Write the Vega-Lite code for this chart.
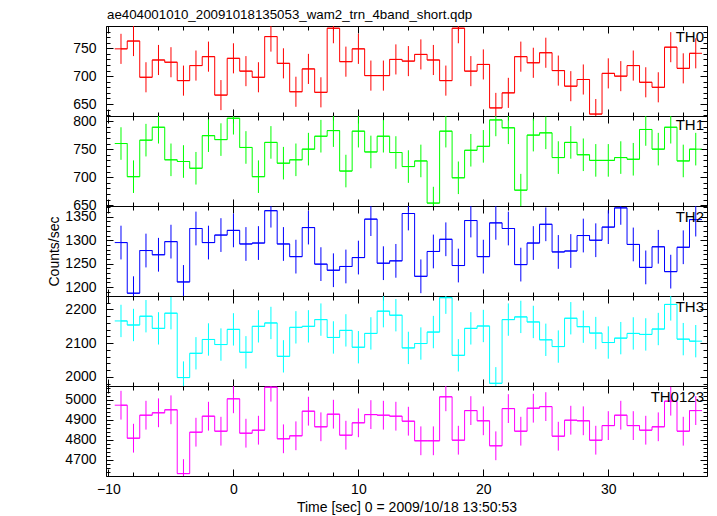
{
  "$schema": "https://vega.github.io/schema/vega-lite/v6.json",
  "background": "white",
  "padding": {"left": 47, "top": 7, "right": 5, "bottom": 5},
  "bounds": "flush",
  "spacing": 0,
  "title": {"text": "ae404001010_20091018135053_wam2_trn_4band_short.qdp", "anchor": "start", "frame": "group", "dx": 1, "fontSize": 13.3, "font": "Liberation Sans", "fontWeight": "normal", "color": "black", "offset": 4},
  "config": {
    "view": {"stroke": "black", "strokeWidth": 1},
    "axis": {"domain": false, "grid": false, "labelFont": "Liberation Sans", "labelFontSize": 14, "labelColor": "black", "titleFont": "Liberation Sans", "titleFontSize": 14, "titleFontWeight": "normal", "titleColor": "black", "tickColor": "black", "tickWidth": 1, "format": "d"},
    "concat": {"spacing": 0}
  },
  "datasets": {
    "d0": [
      {"t":-9,"r":749,"e":27,"w":0.5},{"t":-8,"r":763,"e":27,"w":0.5},{"t":-7,"r":698,"e":27,"w":0.5},{"t":-6,"r":729,"e":27,"w":0.5},{"t":-5,"r":725,"e":27,"w":0.5},{"t":-4,"r":692,"e":27,"w":0.5},{"t":-3,"r":719,"e":27,"w":0.5},{"t":-2,"r":735,"e":27,"w":0.5},{"t":-1,"r":666,"e":27,"w":0.5},{"t":0,"r":732,"e":27,"w":0.5},{"t":1,"r":709,"e":27,"w":0.5},{"t":2,"r":698,"e":27,"w":0.5},{"t":3,"r":771,"e":27,"w":0.5},{"t":4,"r":723,"e":27,"w":0.5},{"t":5,"r":672,"e":27,"w":0.5},{"t":6,"r":713,"e":27,"w":0.5},{"t":7,"r":671,"e":27,"w":0.5},{"t":8,"r":786,"e":27,"w":0.5},{"t":9,"r":726,"e":27,"w":0.5},{"t":10,"r":749,"e":27,"w":0.5},{"t":11,"r":701,"e":27,"w":0.5},{"t":12,"r":701,"e":27,"w":0.5},{"t":13,"r":730,"e":27,"w":0.5},{"t":14,"r":727,"e":27,"w":0.5},{"t":15,"r":739,"e":27,"w":0.5},{"t":16,"r":729,"e":27,"w":0.5},{"t":17,"r":692,"e":27,"w":0.5},{"t":18,"r":786,"e":27,"w":0.5},{"t":19,"r":709,"e":27,"w":0.5},{"t":20,"r":721,"e":27,"w":0.5},{"t":21,"r":643,"e":27,"w":0.5},{"t":22,"r":670,"e":27,"w":0.5},{"t":23,"r":735,"e":27,"w":0.5},{"t":24,"r":724,"e":27,"w":0.5},{"t":25,"r":742,"e":27,"w":0.5},{"t":26,"r":710,"e":27,"w":0.5},{"t":27,"r":682,"e":27,"w":0.5},{"t":28,"r":694,"e":27,"w":0.5},{"t":29,"r":632,"e":27,"w":0.5},{"t":30,"r":705,"e":27,"w":0.5},{"t":31,"r":700,"e":27,"w":0.5},{"t":32,"r":719,"e":27,"w":0.5},{"t":33,"r":689,"e":27,"w":0.5},{"t":34,"r":680,"e":27,"w":0.5},{"t":35,"r":752,"e":27,"w":0.5},{"t":36,"r":714,"e":27,"w":0.5},{"t":37,"r":741,"e":27,"w":0.5}
    ],
    "d1": [
      {"t":-9,"r":760,"e":29,"w":0.5},{"t":-8,"r":701,"e":29,"w":0.5},{"t":-7,"r":766,"e":29,"w":0.5},{"t":-6,"r":789,"e":29,"w":0.5},{"t":-5,"r":731,"e":29,"w":0.5},{"t":-4,"r":728,"e":29,"w":0.5},{"t":-3,"r":716,"e":29,"w":0.5},{"t":-2,"r":774,"e":29,"w":0.5},{"t":-1,"r":767,"e":29,"w":0.5},{"t":0,"r":805,"e":29,"w":0.5},{"t":1,"r":753,"e":29,"w":0.5},{"t":2,"r":701,"e":29,"w":0.5},{"t":3,"r":762,"e":29,"w":0.5},{"t":4,"r":725,"e":29,"w":0.5},{"t":5,"r":731,"e":29,"w":0.5},{"t":6,"r":750,"e":29,"w":0.5},{"t":7,"r":773,"e":29,"w":0.5},{"t":8,"r":783,"e":29,"w":0.5},{"t":9,"r":711,"e":29,"w":0.5},{"t":10,"r":782,"e":29,"w":0.5},{"t":11,"r":745,"e":29,"w":0.5},{"t":12,"r":773,"e":29,"w":0.5},{"t":13,"r":744,"e":29,"w":0.5},{"t":14,"r":719,"e":29,"w":0.5},{"t":15,"r":729,"e":29,"w":0.5},{"t":16,"r":654,"e":29,"w":0.5},{"t":17,"r":782,"e":29,"w":0.5},{"t":18,"r":699,"e":29,"w":0.5},{"t":19,"r":748,"e":29,"w":0.5},{"t":20,"r":755,"e":29,"w":0.5},{"t":21,"r":802,"e":29,"w":0.5},{"t":22,"r":788,"e":29,"w":0.5},{"t":23,"r":677,"e":29,"w":0.5},{"t":24,"r":775,"e":29,"w":0.5},{"t":25,"r":779,"e":29,"w":0.5},{"t":26,"r":735,"e":29,"w":0.5},{"t":27,"r":762,"e":29,"w":0.5},{"t":28,"r":740,"e":29,"w":0.5},{"t":29,"r":730,"e":29,"w":0.5},{"t":30,"r":730,"e":29,"w":0.5},{"t":31,"r":735,"e":29,"w":0.5},{"t":32,"r":732,"e":29,"w":0.5},{"t":33,"r":785,"e":29,"w":0.5},{"t":34,"r":750,"e":29,"w":0.5},{"t":35,"r":789,"e":29,"w":0.5},{"t":36,"r":729,"e":29,"w":0.5},{"t":37,"r":750,"e":29,"w":0.5}
    ],
    "d2": [
      {"t":-9,"r":1295,"e":36,"w":0.5},{"t":-8,"r":1187,"e":36,"w":0.5},{"t":-7,"r":1278,"e":36,"w":0.5},{"t":-6,"r":1269,"e":36,"w":0.5},{"t":-5,"r":1297,"e":36,"w":0.5},{"t":-4,"r":1211,"e":36,"w":0.5},{"t":-3,"r":1325,"e":36,"w":0.5},{"t":-2,"r":1295,"e":36,"w":0.5},{"t":-1,"r":1311,"e":36,"w":0.5},{"t":0,"r":1321,"e":36,"w":0.5},{"t":1,"r":1292,"e":36,"w":0.5},{"t":2,"r":1294,"e":36,"w":0.5},{"t":3,"r":1363,"e":36,"w":0.5},{"t":4,"r":1292,"e":36,"w":0.5},{"t":5,"r":1265,"e":36,"w":0.5},{"t":6,"r":1327,"e":36,"w":0.5},{"t":7,"r":1249,"e":36,"w":0.5},{"t":8,"r":1236,"e":36,"w":0.5},{"t":9,"r":1244,"e":36,"w":0.5},{"t":10,"r":1263,"e":36,"w":0.5},{"t":11,"r":1345,"e":36,"w":0.5},{"t":12,"r":1251,"e":36,"w":0.5},{"t":13,"r":1256,"e":36,"w":0.5},{"t":14,"r":1357,"e":36,"w":0.5},{"t":15,"r":1223,"e":36,"w":0.5},{"t":16,"r":1276,"e":36,"w":0.5},{"t":17,"r":1302,"e":36,"w":0.5},{"t":18,"r":1246,"e":36,"w":0.5},{"t":19,"r":1342,"e":36,"w":0.5},{"t":20,"r":1265,"e":36,"w":0.5},{"t":21,"r":1337,"e":36,"w":0.5},{"t":22,"r":1325,"e":36,"w":0.5},{"t":23,"r":1248,"e":36,"w":0.5},{"t":24,"r":1294,"e":36,"w":0.5},{"t":25,"r":1334,"e":36,"w":0.5},{"t":26,"r":1275,"e":36,"w":0.5},{"t":27,"r":1277,"e":36,"w":0.5},{"t":28,"r":1310,"e":36,"w":0.5},{"t":29,"r":1300,"e":36,"w":0.5},{"t":30,"r":1328,"e":36,"w":0.5},{"t":31,"r":1369,"e":36,"w":0.5},{"t":32,"r":1291,"e":36,"w":0.5},{"t":33,"r":1242,"e":36,"w":0.5},{"t":34,"r":1286,"e":36,"w":0.5},{"t":35,"r":1233,"e":36,"w":0.5},{"t":36,"r":1285,"e":36,"w":0.5},{"t":37,"r":1344,"e":36,"w":0.5}
    ],
    "d3": [
      {"t":-9,"r":2166,"e":48,"w":0.5},{"t":-8,"r":2154,"e":48,"w":0.5},{"t":-7,"r":2180,"e":48,"w":0.5},{"t":-6,"r":2144,"e":48,"w":0.5},{"t":-5,"r":2189,"e":48,"w":0.5},{"t":-4,"r":1998,"e":48,"w":0.5},{"t":-3,"r":2070,"e":48,"w":0.5},{"t":-2,"r":2111,"e":48,"w":0.5},{"t":-1,"r":2096,"e":48,"w":0.5},{"t":0,"r":2141,"e":48,"w":0.5},{"t":1,"r":2073,"e":48,"w":0.5},{"t":2,"r":2150,"e":48,"w":0.5},{"t":3,"r":2160,"e":48,"w":0.5},{"t":4,"r":2061,"e":48,"w":0.5},{"t":5,"r":2147,"e":48,"w":0.5},{"t":6,"r":2150,"e":48,"w":0.5},{"t":7,"r":2170,"e":48,"w":0.5},{"t":8,"r":2117,"e":48,"w":0.5},{"t":9,"r":2138,"e":48,"w":0.5},{"t":10,"r":2088,"e":48,"w":0.5},{"t":11,"r":2129,"e":48,"w":0.5},{"t":12,"r":2195,"e":48,"w":0.5},{"t":13,"r":2183,"e":48,"w":0.5},{"t":14,"r":2086,"e":48,"w":0.5},{"t":15,"r":2099,"e":48,"w":0.5},{"t":16,"r":2133,"e":48,"w":0.5},{"t":17,"r":2235,"e":48,"w":0.5},{"t":18,"r":2064,"e":48,"w":0.5},{"t":19,"r":2144,"e":48,"w":0.5},{"t":20,"r":2151,"e":48,"w":0.5},{"t":21,"r":1981,"e":48,"w":0.5},{"t":22,"r":2170,"e":48,"w":0.5},{"t":23,"r":2178,"e":48,"w":0.5},{"t":24,"r":2163,"e":48,"w":0.5},{"t":25,"r":2110,"e":48,"w":0.5},{"t":26,"r":2090,"e":48,"w":0.5},{"t":27,"r":2174,"e":48,"w":0.5},{"t":28,"r":2149,"e":48,"w":0.5},{"t":29,"r":2130,"e":48,"w":0.5},{"t":30,"r":2102,"e":48,"w":0.5},{"t":31,"r":2115,"e":48,"w":0.5},{"t":32,"r":2129,"e":48,"w":0.5},{"t":33,"r":2126,"e":48,"w":0.5},{"t":34,"r":2142,"e":48,"w":0.5},{"t":35,"r":2215,"e":48,"w":0.5},{"t":36,"r":2112,"e":48,"w":0.5},{"t":37,"r":2106,"e":48,"w":0.5}
    ],
    "d4": [
      {"t":-9,"r":4972,"e":72,"w":0.5},{"t":-8,"r":4807,"e":72,"w":0.5},{"t":-7,"r":4922,"e":72,"w":0.5},{"t":-6,"r":4934,"e":72,"w":0.5},{"t":-5,"r":4949,"e":72,"w":0.5},{"t":-4,"r":4630,"e":72,"w":0.5},{"t":-3,"r":4837,"e":72,"w":0.5},{"t":-2,"r":4917,"e":72,"w":0.5},{"t":-1,"r":4842,"e":72,"w":0.5},{"t":0,"r":5004,"e":72,"w":0.5},{"t":1,"r":4832,"e":72,"w":0.5},{"t":2,"r":4847,"e":72,"w":0.5},{"t":3,"r":5062,"e":72,"w":0.5},{"t":4,"r":4804,"e":72,"w":0.5},{"t":5,"r":4819,"e":72,"w":0.5},{"t":6,"r":4942,"e":72,"w":0.5},{"t":7,"r":4864,"e":72,"w":0.5},{"t":8,"r":4927,"e":72,"w":0.5},{"t":9,"r":4822,"e":72,"w":0.5},{"t":10,"r":4884,"e":72,"w":0.5},{"t":11,"r":4925,"e":72,"w":0.5},{"t":12,"r":4922,"e":72,"w":0.5},{"t":13,"r":4917,"e":72,"w":0.5},{"t":14,"r":4892,"e":72,"w":0.5},{"t":15,"r":4794,"e":72,"w":0.5},{"t":16,"r":4794,"e":72,"w":0.5},{"t":17,"r":5014,"e":72,"w":0.5},{"t":18,"r":4797,"e":72,"w":0.5},{"t":19,"r":4945,"e":72,"w":0.5},{"t":20,"r":4894,"e":72,"w":0.5},{"t":21,"r":4769,"e":72,"w":0.5},{"t":22,"r":4955,"e":72,"w":0.5},{"t":23,"r":4842,"e":72,"w":0.5},{"t":24,"r":4957,"e":72,"w":0.5},{"t":25,"r":4965,"e":72,"w":0.5},{"t":26,"r":4817,"e":72,"w":0.5},{"t":27,"r":4897,"e":72,"w":0.5},{"t":28,"r":4894,"e":72,"w":0.5},{"t":29,"r":4797,"e":72,"w":0.5},{"t":30,"r":4870,"e":72,"w":0.5},{"t":31,"r":4922,"e":72,"w":0.5},{"t":32,"r":4870,"e":72,"w":0.5},{"t":33,"r":4847,"e":72,"w":0.5},{"t":34,"r":4864,"e":72,"w":0.5},{"t":35,"r":4992,"e":72,"w":0.5},{"t":36,"r":4842,"e":72,"w":0.5},{"t":37,"r":4945,"e":72,"w":0.5}
    ]
  },
  "vconcat": [
    {
      "width": 601, "height": 90,
      "data": {"name": "d0"},
      "title": {"text": "TH0", "anchor": "end", "frame": "group", "offset": -19, "dx": -3, "fontSize": 15, "font": "Liberation Sans", "fontWeight": "normal", "color": "black"},
      "layer": [
        {"mark": {"type": "line", "interpolate": "step", "color": "#ff0000", "strokeWidth": 1, "clip": true},
         "encoding": {
           "x": {"field": "t", "type": "quantitative", "scale": {"domain": [-10.2, 37.9], "nice": false, "zero": false}, "axis": null},
           "y": {"field": "r", "type": "quantitative", "scale": {"domain": [628.5, 790], "nice": false, "zero": false}, "axis": {"values": [650, 700, 750], "ticks": false, "labelPadding": 10, "title": null}}}},
        {"mark": {"type": "point", "opacity": 0, "size": 0, "clip": true},
         "encoding": {
           "x": {"field": "t", "type": "quantitative", "scale": {"domain": [-10.2, 37.9], "nice": false, "zero": false}, "axis": {"orient": "bottom", "values": [-10,-8,-6,-4,-2,0,2,4,6,8,10,12,14,16,18,20,22,24,26,28,30,32,34,36], "labels": false, "title": null, "tickSize": {"condition": {"test": "datum.value % 10 === 0", "value": -7}, "value": -4}}},
           "y": {"field": "r", "type": "quantitative", "scale": {"domain": [628.5, 790], "nice": false, "zero": false}, "axis": {"orient": "left", "values": [630,640,650,660,670,680,690,700,710,720,730,740,750,760,770,780,790], "labels": false, "title": null, "tickSize": {"condition": {"test": "datum.value % 50 === 0", "value": -7}, "value": -4}}}}},
        {"mark": {"type": "point", "opacity": 0, "size": 0, "clip": true},
         "encoding": {
           "x": {"field": "t", "type": "quantitative", "scale": {"domain": [-10.2, 37.9], "nice": false, "zero": false}, "axis": {"orient": "top", "values": [-10,-8,-6,-4,-2,0,2,4,6,8,10,12,14,16,18,20,22,24,26,28,30,32,34,36], "labels": false, "title": null, "tickSize": {"condition": {"test": "datum.value % 10 === 0", "value": -7}, "value": -4}}},
           "y": {"field": "r", "type": "quantitative", "scale": {"domain": [628.5, 790], "nice": false, "zero": false}, "axis": {"orient": "right", "values": [630,640,650,660,670,680,690,700,710,720,730,740,750,760,770,780,790], "labels": false, "title": null, "tickSize": {"condition": {"test": "datum.value % 50 === 0", "value": -7}, "value": -4}}}}},
        {"mark": {"type": "errorbar", "color": "#ff0000", "thickness": 1, "clip": true},
         "encoding": {
           "x": {"field": "t", "type": "quantitative", "scale": {"domain": [-10.2, 37.9], "nice": false, "zero": false}, "axis": null},
           "xError": {"field": "w"},
           "y": {"field": "r", "type": "quantitative", "scale": {"domain": [628.5, 790], "nice": false, "zero": false}, "axis": null}}},
        {"mark": {"type": "errorbar", "color": "#ff0000", "thickness": 1, "clip": true},
         "encoding": {
           "x": {"field": "t", "type": "quantitative", "scale": {"domain": [-10.2, 37.9], "nice": false, "zero": false}, "axis": null},
           "y": {"field": "r", "type": "quantitative", "scale": {"domain": [628.5, 790], "nice": false, "zero": false}, "axis": null},
           "yError": {"field": "e"}}}
      ],
      "resolve": {"axis": {"x": "independent", "y": "independent"}}
    },
    {
      "width": 601, "height": 90,
      "data": {"name": "d1"},
      "title": {"text": "TH1", "anchor": "end", "frame": "group", "offset": -19, "dx": -3, "fontSize": 15, "font": "Liberation Sans", "fontWeight": "normal", "color": "black"},
      "layer": [
        {"mark": {"type": "line", "interpolate": "step", "color": "#00ff00", "strokeWidth": 1, "clip": true},
         "encoding": {
           "x": {"field": "t", "type": "quantitative", "scale": {"domain": [-10.2, 37.9], "nice": false, "zero": false}, "axis": null},
           "y": {"field": "r", "type": "quantitative", "scale": {"domain": [648.8, 809], "nice": false, "zero": false}, "axis": {"values": [650, 700, 750, 800], "ticks": false, "labelPadding": 10, "title": null}}}},
        {"mark": {"type": "point", "opacity": 0, "size": 0, "clip": true},
         "encoding": {
           "x": {"field": "t", "type": "quantitative", "scale": {"domain": [-10.2, 37.9], "nice": false, "zero": false}, "axis": {"orient": "bottom", "values": [-10,-8,-6,-4,-2,0,2,4,6,8,10,12,14,16,18,20,22,24,26,28,30,32,34,36], "labels": false, "title": null, "tickSize": {"condition": {"test": "datum.value % 10 === 0", "value": -7}, "value": -4}}},
           "y": {"field": "r", "type": "quantitative", "scale": {"domain": [648.8, 809], "nice": false, "zero": false}, "axis": {"orient": "left", "values": [650,660,670,680,690,700,710,720,730,740,750,760,770,780,790,800], "labels": false, "title": null, "tickSize": {"condition": {"test": "datum.value % 50 === 0", "value": -7}, "value": -4}}}}},
        {"mark": {"type": "point", "opacity": 0, "size": 0, "clip": true},
         "encoding": {
           "x": {"field": "t", "type": "quantitative", "scale": {"domain": [-10.2, 37.9], "nice": false, "zero": false}, "axis": {"orient": "top", "values": [-10,-8,-6,-4,-2,0,2,4,6,8,10,12,14,16,18,20,22,24,26,28,30,32,34,36], "labels": false, "title": null, "tickSize": {"condition": {"test": "datum.value % 10 === 0", "value": -7}, "value": -4}}},
           "y": {"field": "r", "type": "quantitative", "scale": {"domain": [648.8, 809], "nice": false, "zero": false}, "axis": {"orient": "right", "values": [650,660,670,680,690,700,710,720,730,740,750,760,770,780,790,800], "labels": false, "title": null, "tickSize": {"condition": {"test": "datum.value % 50 === 0", "value": -7}, "value": -4}}}}},
        {"mark": {"type": "errorbar", "color": "#00ff00", "thickness": 1, "clip": true},
         "encoding": {
           "x": {"field": "t", "type": "quantitative", "scale": {"domain": [-10.2, 37.9], "nice": false, "zero": false}, "axis": null},
           "xError": {"field": "w"},
           "y": {"field": "r", "type": "quantitative", "scale": {"domain": [648.8, 809], "nice": false, "zero": false}, "axis": null}}},
        {"mark": {"type": "errorbar", "color": "#00ff00", "thickness": 1, "clip": true},
         "encoding": {
           "x": {"field": "t", "type": "quantitative", "scale": {"domain": [-10.2, 37.9], "nice": false, "zero": false}, "axis": null},
           "y": {"field": "r", "type": "quantitative", "scale": {"domain": [648.8, 809], "nice": false, "zero": false}, "axis": null},
           "yError": {"field": "e"}}}
      ],
      "resolve": {"axis": {"x": "independent", "y": "independent"}}
    },
    {
      "width": 601, "height": 90,
      "data": {"name": "d2"},
      "title": {"text": "TH2", "anchor": "end", "frame": "group", "offset": -19, "dx": -3, "fontSize": 15, "font": "Liberation Sans", "fontWeight": "normal", "color": "black"},
      "layer": [
        {"mark": {"type": "line", "interpolate": "step", "color": "#0000ff", "strokeWidth": 1, "clip": true},
         "encoding": {
           "x": {"field": "t", "type": "quantitative", "scale": {"domain": [-10.2, 37.9], "nice": false, "zero": false}, "axis": null},
           "y": {"field": "r", "type": "quantitative", "scale": {"domain": [1181, 1373], "nice": false, "zero": false}, "axis": {"values": [1200, 1250, 1300, 1350], "ticks": false, "labelPadding": 10, "title": "Counts/sec", "titlePadding": 3}}}},
        {"mark": {"type": "point", "opacity": 0, "size": 0, "clip": true},
         "encoding": {
           "x": {"field": "t", "type": "quantitative", "scale": {"domain": [-10.2, 37.9], "nice": false, "zero": false}, "axis": {"orient": "bottom", "values": [-10,-8,-6,-4,-2,0,2,4,6,8,10,12,14,16,18,20,22,24,26,28,30,32,34,36], "labels": false, "title": null, "tickSize": {"condition": {"test": "datum.value % 10 === 0", "value": -7}, "value": -4}}},
           "y": {"field": "r", "type": "quantitative", "scale": {"domain": [1181, 1373], "nice": false, "zero": false}, "axis": {"orient": "left", "values": [1190,1200,1210,1220,1230,1240,1250,1260,1270,1280,1290,1300,1310,1320,1330,1340,1350,1360,1370], "labels": false, "title": null, "tickSize": {"condition": {"test": "datum.value % 50 === 0", "value": -7}, "value": -4}}}}},
        {"mark": {"type": "point", "opacity": 0, "size": 0, "clip": true},
         "encoding": {
           "x": {"field": "t", "type": "quantitative", "scale": {"domain": [-10.2, 37.9], "nice": false, "zero": false}, "axis": {"orient": "top", "values": [-10,-8,-6,-4,-2,0,2,4,6,8,10,12,14,16,18,20,22,24,26,28,30,32,34,36], "labels": false, "title": null, "tickSize": {"condition": {"test": "datum.value % 10 === 0", "value": -7}, "value": -4}}},
           "y": {"field": "r", "type": "quantitative", "scale": {"domain": [1181, 1373], "nice": false, "zero": false}, "axis": {"orient": "right", "values": [1190,1200,1210,1220,1230,1240,1250,1260,1270,1280,1290,1300,1310,1320,1330,1340,1350,1360,1370], "labels": false, "title": null, "tickSize": {"condition": {"test": "datum.value % 50 === 0", "value": -7}, "value": -4}}}}},
        {"mark": {"type": "errorbar", "color": "#0000ff", "thickness": 1, "clip": true},
         "encoding": {
           "x": {"field": "t", "type": "quantitative", "scale": {"domain": [-10.2, 37.9], "nice": false, "zero": false}, "axis": null},
           "xError": {"field": "w"},
           "y": {"field": "r", "type": "quantitative", "scale": {"domain": [1181, 1373], "nice": false, "zero": false}, "axis": null}}},
        {"mark": {"type": "errorbar", "color": "#0000ff", "thickness": 1, "clip": true},
         "encoding": {
           "x": {"field": "t", "type": "quantitative", "scale": {"domain": [-10.2, 37.9], "nice": false, "zero": false}, "axis": null},
           "y": {"field": "r", "type": "quantitative", "scale": {"domain": [1181, 1373], "nice": false, "zero": false}, "axis": null},
           "yError": {"field": "e"}}}
      ],
      "resolve": {"axis": {"x": "independent", "y": "independent"}}
    },
    {
      "width": 601, "height": 90,
      "data": {"name": "d3"},
      "title": {"text": "TH3", "anchor": "end", "frame": "group", "offset": -19, "dx": -3, "fontSize": 15, "font": "Liberation Sans", "fontWeight": "normal", "color": "black"},
      "layer": [
        {"mark": {"type": "line", "interpolate": "step", "color": "#00ffff", "strokeWidth": 1, "clip": true},
         "encoding": {
           "x": {"field": "t", "type": "quantitative", "scale": {"domain": [-10.2, 37.9], "nice": false, "zero": false}, "axis": null},
           "y": {"field": "r", "type": "quantitative", "scale": {"domain": [1973, 2240], "nice": false, "zero": false}, "axis": {"values": [2000, 2100, 2200], "ticks": false, "labelPadding": 10, "title": null}}}},
        {"mark": {"type": "point", "opacity": 0, "size": 0, "clip": true},
         "encoding": {
           "x": {"field": "t", "type": "quantitative", "scale": {"domain": [-10.2, 37.9], "nice": false, "zero": false}, "axis": {"orient": "bottom", "values": [-10,-8,-6,-4,-2,0,2,4,6,8,10,12,14,16,18,20,22,24,26,28,30,32,34,36], "labels": false, "title": null, "tickSize": {"condition": {"test": "datum.value % 10 === 0", "value": -7}, "value": -4}}},
           "y": {"field": "r", "type": "quantitative", "scale": {"domain": [1973, 2240], "nice": false, "zero": false}, "axis": {"orient": "left", "values": [1980,2000,2020,2040,2060,2080,2100,2120,2140,2160,2180,2200,2220,2240], "labels": false, "title": null, "tickSize": {"condition": {"test": "datum.value % 100 === 0", "value": -7}, "value": -4}}}}},
        {"mark": {"type": "point", "opacity": 0, "size": 0, "clip": true},
         "encoding": {
           "x": {"field": "t", "type": "quantitative", "scale": {"domain": [-10.2, 37.9], "nice": false, "zero": false}, "axis": {"orient": "top", "values": [-10,-8,-6,-4,-2,0,2,4,6,8,10,12,14,16,18,20,22,24,26,28,30,32,34,36], "labels": false, "title": null, "tickSize": {"condition": {"test": "datum.value % 10 === 0", "value": -7}, "value": -4}}},
           "y": {"field": "r", "type": "quantitative", "scale": {"domain": [1973, 2240], "nice": false, "zero": false}, "axis": {"orient": "right", "values": [1980,2000,2020,2040,2060,2080,2100,2120,2140,2160,2180,2200,2220,2240], "labels": false, "title": null, "tickSize": {"condition": {"test": "datum.value % 100 === 0", "value": -7}, "value": -4}}}}},
        {"mark": {"type": "errorbar", "color": "#00ffff", "thickness": 1, "clip": true},
         "encoding": {
           "x": {"field": "t", "type": "quantitative", "scale": {"domain": [-10.2, 37.9], "nice": false, "zero": false}, "axis": null},
           "xError": {"field": "w"},
           "y": {"field": "r", "type": "quantitative", "scale": {"domain": [1973, 2240], "nice": false, "zero": false}, "axis": null}}},
        {"mark": {"type": "errorbar", "color": "#00ffff", "thickness": 1, "clip": true},
         "encoding": {
           "x": {"field": "t", "type": "quantitative", "scale": {"domain": [-10.2, 37.9], "nice": false, "zero": false}, "axis": null},
           "y": {"field": "r", "type": "quantitative", "scale": {"domain": [1973, 2240], "nice": false, "zero": false}, "axis": null},
           "yError": {"field": "e"}}}
      ],
      "resolve": {"axis": {"x": "independent", "y": "independent"}}
    },
    {
      "width": 601, "height": 90,
      "data": {"name": "d4"},
      "title": {"text": "TH0123", "anchor": "end", "frame": "group", "offset": -19, "dx": -3, "fontSize": 15, "font": "Liberation Sans", "fontWeight": "normal", "color": "black"},
      "layer": [
        {"mark": {"type": "line", "interpolate": "step", "color": "#ff00ff", "strokeWidth": 1, "clip": true},
         "encoding": {
           "x": {"field": "t", "type": "quantitative", "scale": {"domain": [-10.2, 37.9], "nice": false, "zero": false}, "axis": {"orient": "bottom", "values": [-10, 0, 10, 20, 30], "ticks": false, "labelPadding": 6, "title": "Time [sec] 0 = 2009/10/18 13:50:53", "titlePadding": 4}},
           "y": {"field": "r", "type": "quantitative", "scale": {"domain": [4618, 5068], "nice": false, "zero": false}, "axis": {"values": [4700, 4800, 4900, 5000], "ticks": false, "labelPadding": 10, "title": null}}}},
        {"mark": {"type": "point", "opacity": 0, "size": 0, "clip": true},
         "encoding": {
           "x": {"field": "t", "type": "quantitative", "scale": {"domain": [-10.2, 37.9], "nice": false, "zero": false}, "axis": {"orient": "bottom", "values": [-10,-8,-6,-4,-2,0,2,4,6,8,10,12,14,16,18,20,22,24,26,28,30,32,34,36], "labels": false, "title": null, "tickSize": {"condition": {"test": "datum.value % 10 === 0", "value": -7}, "value": -4}}},
           "y": {"field": "r", "type": "quantitative", "scale": {"domain": [4618, 5068], "nice": false, "zero": false}, "axis": {"orient": "left", "values": [4620,4640,4660,4680,4700,4720,4740,4760,4780,4800,4820,4840,4860,4880,4900,4920,4940,4960,4980,5000,5020,5040,5060], "labels": false, "title": null, "tickSize": {"condition": {"test": "datum.value % 100 === 0", "value": -7}, "value": -4}}}}},
        {"mark": {"type": "point", "opacity": 0, "size": 0, "clip": true},
         "encoding": {
           "x": {"field": "t", "type": "quantitative", "scale": {"domain": [-10.2, 37.9], "nice": false, "zero": false}, "axis": {"orient": "top", "values": [-10,-8,-6,-4,-2,0,2,4,6,8,10,12,14,16,18,20,22,24,26,28,30,32,34,36], "labels": false, "title": null, "tickSize": {"condition": {"test": "datum.value % 10 === 0", "value": -7}, "value": -4}}},
           "y": {"field": "r", "type": "quantitative", "scale": {"domain": [4618, 5068], "nice": false, "zero": false}, "axis": {"orient": "right", "values": [4620,4640,4660,4680,4700,4720,4740,4760,4780,4800,4820,4840,4860,4880,4900,4920,4940,4960,4980,5000,5020,5040,5060], "labels": false, "title": null, "tickSize": {"condition": {"test": "datum.value % 100 === 0", "value": -7}, "value": -4}}}}},
        {"mark": {"type": "errorbar", "color": "#ff00ff", "thickness": 1, "clip": true},
         "encoding": {
           "x": {"field": "t", "type": "quantitative", "scale": {"domain": [-10.2, 37.9], "nice": false, "zero": false}, "axis": null},
           "xError": {"field": "w"},
           "y": {"field": "r", "type": "quantitative", "scale": {"domain": [4618, 5068], "nice": false, "zero": false}, "axis": null}}},
        {"mark": {"type": "errorbar", "color": "#ff00ff", "thickness": 1, "clip": true},
         "encoding": {
           "x": {"field": "t", "type": "quantitative", "scale": {"domain": [-10.2, 37.9], "nice": false, "zero": false}, "axis": null},
           "y": {"field": "r", "type": "quantitative", "scale": {"domain": [4618, 5068], "nice": false, "zero": false}, "axis": null},
           "yError": {"field": "e"}}}
      ],
      "resolve": {"axis": {"x": "independent", "y": "independent"}}
    }
  ]
}
